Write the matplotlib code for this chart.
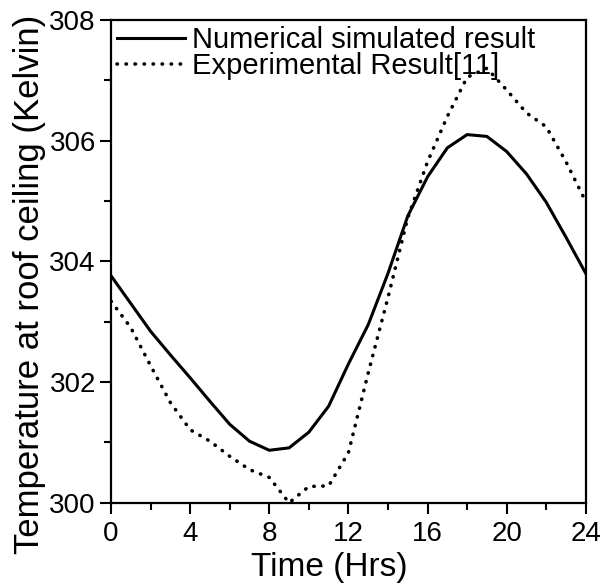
import matplotlib
matplotlib.use("Agg")
import matplotlib.pyplot as plt
from matplotlib.ticker import MultipleLocator

plt.rcParams["font.family"] = ["Liberation Sans", "DejaVu Sans"]

hours = list(range(25))
numerical = [303.76, 303.30, 302.84, 302.45, 302.07, 301.68, 301.30, 301.02, 300.87,
             300.91, 301.17, 301.60, 302.30, 302.95, 303.80, 304.75, 305.40, 305.88,
             306.10, 306.07, 305.82, 305.45, 304.98, 304.40, 303.80]
experimental = [303.34, 302.90, 302.27, 301.66, 301.21, 301.02, 300.77, 300.55, 300.42,
                300.00, 300.27, 300.28, 300.83, 302.15, 303.40, 304.72, 305.65, 306.40,
                307.05, 307.20, 306.84, 306.46, 306.23, 305.65, 304.99]

labels = ["Numerical simulated result", "Experimental Result[11]"]

fig = plt.figure(figsize=(6.07, 5.86), dpi=100)
ax = fig.add_axes([0.183, 0.142, 0.782, 0.824])

ax.plot(hours, numerical, color="black", lw=2.2, label=labels[0])
ax.plot(hours, experimental, color="black", lw=2.6, linestyle=(0, (0.1, 2.4)),
        dash_capstyle="round", label=labels[1])

ax.set_xlim(0, 24)
ax.set_ylim(300, 308)
ax.xaxis.set_major_locator(MultipleLocator(4))
ax.xaxis.set_minor_locator(MultipleLocator(2))
ax.yaxis.set_major_locator(MultipleLocator(2))
ax.yaxis.set_minor_locator(MultipleLocator(1))
ax.tick_params(which="major", direction="out", length=8, width=1.5, labelsize=20)
ax.tick_params(axis="x", which="major", pad=5)
ax.tick_params(axis="y", which="major", pad=3)
ax.tick_params(which="minor", direction="out", length=5, width=1.5)
for sp in ax.spines.values():
    sp.set_linewidth(1.6)

# labels sit a little off-centre in the original
ax.set_xlabel("Time (Hrs)", fontsize=24)
ax.xaxis.set_label_coords(0.459, -0.102)
ax.set_ylabel("Temperature at roof ceiling (Kelvin)", fontsize=25)
ax.yaxis.set_label_coords(-0.137, 0.453)

ax.legend(loc="upper left", bbox_to_anchor=(0.0, 1.0), frameon=False, fontsize=21,
          handlelength=2.33, handletextpad=0.24, labelspacing=-0.05,
          borderaxespad=0, borderpad=0.2)

fig.savefig("out.png", dpi=100)
